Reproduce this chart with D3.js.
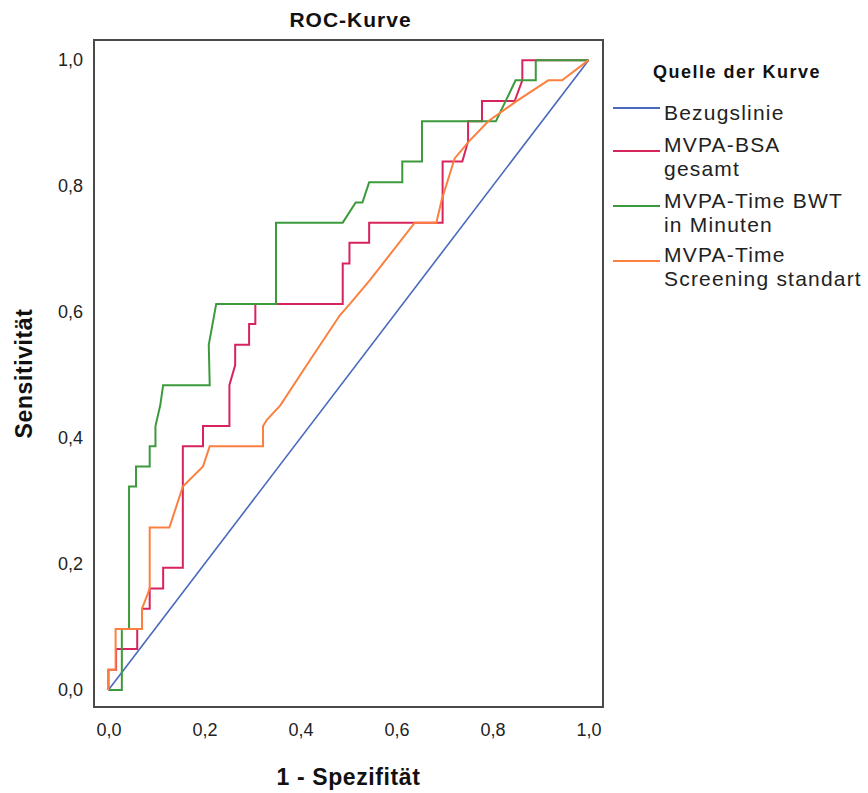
<!DOCTYPE html>
<html>
<head>
<meta charset="utf-8">
<script src="https://cdn.jsdelivr.net/npm/d3@7"></script>
<style>
  html, body { margin: 0; padding: 0; background: #fff; }
  svg { display: block; font-family: "Liberation Sans", Arial, sans-serif; }
</style>
</head>
<body>
<svg id="chart" width="868" height="793"></svg>
<script>
// ---- data ----
const chartTitle = "ROC-Kurve";
const xAxisTitle = "1 - Spezifität";
const yAxisTitle = "Sensitivität";
const legendTitle = "Quelle der Kurve";
const tickValues = [0, 0.2, 0.4, 0.6, 0.8, 1.0];
const tickLabels = ["0,0", "0,2", "0,4", "0,6", "0,8", "1,0"];

const seriesNames = ["Bezugslinie", "MVPA-BSA gesamt", "MVPA-Time BWT in Minuten", "MVPA-Time Screening standart"];
const legendLines = [["Bezugslinie"], ["MVPA-BSA", "gesamt"], ["MVPA-Time BWT", "in Minuten"], ["MVPA-Time", "Screening standart"]];
const seriesColors = ["#4a69bd", "#d8245c", "#3c9a3c", "#fb8040"];

const bezugX = [0, 1];
const bezugY = [0, 1];

const bsaX = [0, 0, 0.016, 0.016, 0.06, 0.06, 0.07, 0.07, 0.086, 0.086, 0.114, 0.114, 0.155, 0.155, 0.197, 0.197, 0.252, 0.252, 0.264, 0.264, 0.293, 0.293, 0.306, 0.306, 0.488, 0.488, 0.502, 0.502, 0.543, 0.543, 0.696, 0.696, 0.737, 0.749, 0.749, 0.778, 0.778, 0.846, 0.862, 0.862, 1];
const bsaY = [0, 0.032, 0.032, 0.065, 0.065, 0.097, 0.097, 0.129, 0.129, 0.161, 0.161, 0.194, 0.194, 0.387, 0.387, 0.419, 0.419, 0.484, 0.516, 0.548, 0.548, 0.581, 0.581, 0.613, 0.613, 0.677, 0.677, 0.71, 0.71, 0.742, 0.742, 0.839, 0.839, 0.871, 0.903, 0.903, 0.935, 0.935, 0.968, 1, 1];

const bwtX = [0, 0.028, 0.028, 0.043, 0.043, 0.0575, 0.0575, 0.086, 0.086, 0.098, 0.098, 0.108, 0.114, 0.211, 0.209, 0.2245, 0.349, 0.349, 0.488, 0.515, 0.529, 0.543, 0.612, 0.612, 0.653, 0.653, 0.807, 0.848, 0.89, 0.89, 1];
const bwtY = [0, 0, 0.097, 0.097, 0.323, 0.323, 0.355, 0.355, 0.387, 0.387, 0.419, 0.452, 0.484, 0.484, 0.548, 0.613, 0.613, 0.742, 0.742, 0.774, 0.774, 0.806, 0.806, 0.839, 0.839, 0.903, 0.903, 0.968, 0.968, 1, 1];

const scrX = [0, 0, 0.015, 0.015, 0.07, 0.07, 0.086, 0.086, 0.127, 0.155, 0.197, 0.211, 0.322, 0.322, 0.33, 0.358, 0.42, 0.482, 0.503, 0.545, 0.638, 0.683, 0.694, 0.721, 0.751, 0.791, 0.85, 0.916, 0.945, 1];
const scrY = [0, 0.032, 0.032, 0.097, 0.097, 0.129, 0.161, 0.258, 0.258, 0.323, 0.355, 0.387, 0.387, 0.419, 0.429, 0.452, 0.524, 0.595, 0.613, 0.651, 0.742, 0.742, 0.778, 0.844, 0.871, 0.903, 0.935, 0.968, 0.968, 1];

// ---- layout ----
const svg = d3.select("#chart");
const frame = { left: 94, right: 603, top: 40, bottom: 707 };
const x = d3.scaleLinear().domain([-0.03, 1.03]).range([frame.left, frame.right]);
const y = d3.scaleLinear().domain([-0.027, 1.032]).range([frame.bottom, frame.top]);

const seriesData = [
  d3.zip(bezugX, bezugY),
  d3.zip(bsaX, bsaY),
  d3.zip(bwtX, bwtY),
  d3.zip(scrX, scrY)
];
const widths = [1.6, 2, 2, 2];

// title
svg.append("text")
  .attr("x", (frame.left + frame.right) / 2 + 2)
  .attr("y", 27)
  .attr("text-anchor", "middle")
  .attr("font-weight", "bold")
  .attr("font-size", 21)
  .attr("letter-spacing", 1)
  .attr("fill", "#111")
  .text(chartTitle);

// axes (no tick marks)
const fmt = d => tickLabels[tickValues.indexOf(d)];
const xAxis = svg.append("g")
  .attr("transform", `translate(0,${frame.bottom})`)
  .call(d3.axisBottom(x).tickValues(tickValues).tickFormat(fmt).tickSize(0).tickPadding(16));
const yAxis = svg.append("g")
  .attr("transform", `translate(${frame.left},0)`)
  .call(d3.axisLeft(y).tickValues(tickValues).tickFormat(fmt).tickSize(0).tickPadding(11));
[xAxis, yAxis].forEach(g => {
  g.select(".domain").remove();
  g.selectAll("text").attr("font-size", 18).attr("fill", "#222")
    .attr("font-family", "'Liberation Sans', Arial, sans-serif");
});

// lines
const line = d3.line().x(d => x(d[0])).y(d => y(d[1]));
seriesData.forEach((data, i) => {
  svg.append("path")
    .datum(data)
    .attr("d", line)
    .attr("fill", "none")
    .attr("stroke", seriesColors[i])
    .attr("stroke-width", widths[i])
    .attr("stroke-linejoin", "miter");
});

// frame
svg.append("rect")
  .attr("x", frame.left).attr("y", frame.top)
  .attr("width", frame.right - frame.left).attr("height", frame.bottom - frame.top)
  .attr("fill", "none").attr("stroke", "#4a4a4a").attr("stroke-width", 2);

// axis titles
svg.append("text")
  .attr("x", (frame.left + frame.right) / 2)
  .attr("y", 785)
  .attr("text-anchor", "middle")
  .attr("font-weight", "bold")
  .attr("font-size", 23)
  .attr("letter-spacing", 0.6)
  .attr("fill", "#111")
  .text(xAxisTitle);
svg.append("text")
  .attr("transform", `translate(32,${(frame.top + frame.bottom) / 2}) rotate(-90)`)
  .attr("text-anchor", "middle")
  .attr("font-weight", "bold")
  .attr("font-size", 23)
  .attr("letter-spacing", 0.6)
  .attr("fill", "#111")
  .text(yAxisTitle);

// legend
const lg = svg.append("g");
lg.append("text")
  .attr("x", 653).attr("y", 78)
  .attr("font-weight", "bold")
  .attr("font-size", 18)
  .attr("letter-spacing", 1.5)
  .attr("fill", "#111")
  .text(legendTitle);
const entryBaselines = [120, 152, 208, 262];
const swatchY = [108, 151, 206, 261];
legendLines.forEach((lines, i) => {
  lg.append("line")
    .attr("x1", 613).attr("x2", 660)
    .attr("y1", swatchY[i]).attr("y2", swatchY[i])
    .attr("stroke", seriesColors[i]).attr("stroke-width", 2);
  const t = lg.append("text")
    .attr("x", 664).attr("y", entryBaselines[i])
    .attr("font-size", 21).attr("letter-spacing", 1.2).attr("fill", "#222");
  lines.forEach((s, j) => {
    t.append("tspan").attr("x", 664).attr("dy", j === 0 ? 0 : 24).text(s);
  });
});
</script>
</body>
</html>
